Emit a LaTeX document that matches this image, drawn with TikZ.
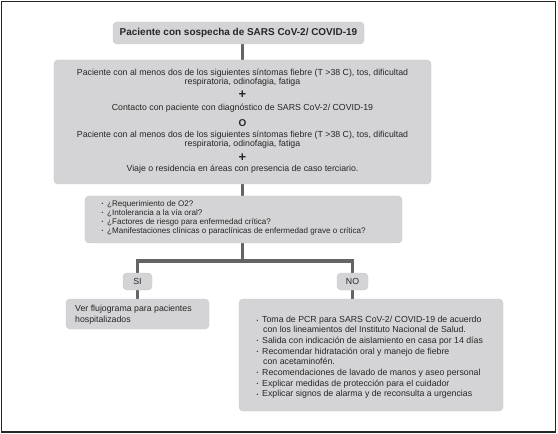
\documentclass[tikz,border=0pt]{standalone}
\usepackage{fontspec}
\setmainfont{Liberation Sans}
\usetikzlibrary{backgrounds}
\definecolor{boxfill}{RGB}{212,212,214}
\definecolor{boxedge}{RGB}{200,200,202}
\definecolor{linegray}{RGB}{100,100,100}
\definecolor{txtcol}{RGB}{38,38,38}
\newcommand\bl{\makebox[5.5bp][l]{\fontsize{5}{5}\selectfont\raisebox{0.7bp}{•}}}
\begin{document}
\begin{tikzpicture}[x=1bp,y=-1bp,
  boxnode/.style={fill=boxfill, draw=boxedge, line width=0.4bp, rounded corners=4bp, inner sep=0pt, text=txtcol},
  txt/.style={font=\fontsize{8.8}{9}\selectfont, text=txtcol, inner sep=0pt},
  txtq/.style={font=\fontsize{8.1}{9}\selectfont, text=txtcol, inner sep=0pt},
  txtb/.style={font=\fontsize{8.8}{10.2}\selectfont, text=txtcol, inner sep=0pt},
  sym/.style={font=\bfseries\fontsize{13}{13}\selectfont, text=txtcol, inner sep=0pt},
  symo/.style={font=\bfseries\fontsize{10}{10}\selectfont, text=txtcol, inner sep=0pt},
  conn/.style={draw=linegray, line width=3bp}]
\useasboundingbox (0,0) rectangle (558,434);
\draw[line width=1.2bp, black!85] (1.5,1.5) rectangle (555.5,432);

\node[boxnode, minimum width=251bp, minimum height=22bp, font=\bfseries\fontsize{10}{11}\selectfont] (title) at (238.5,33) {Paciente con sospecha de SARS CoV-2/ COVID-19};

\node[boxnode, minimum width=377bp, minimum height=124bp] (crit) at (242.5,122) {};
\node[txt, anchor=north, align=center] (c1) at (242.5,68.9) {Paciente con al menos dos de los siguientes síntomas fiebre (T >38 C), tos, dificultad\\respiratoria, odinofagia, fatiga};
\node[sym] (p1) at (242.5,95) {+};
\node[txt, anchor=north] (c2) at (242.5,103.9) {Contacto con paciente con diagnóstico de SARS CoV-2/ COVID-19};
\node[symo] (o) at (242.5,123.5) {O};
\node[txt, anchor=north, align=center] (c3) at (242.5,130.9) {Paciente con al menos dos de los siguientes síntomas fiebre (T >38 C), tos, dificultad\\respiratoria, odinofagia, fatiga};
\node[sym] (p2) at (242.5,158) {+};
\node[txt, anchor=north] (c4) at (242.5,164.9) {Viaje o residencia en áreas con presencia de caso terciario.};

\node[boxnode, minimum width=317bp, minimum height=47bp] (q) at (243.5,219.5) {};
\node[txtq, anchor=north west, align=left] (qt) at (101.5,200.2) {\bl ¿Requerimiento de O2?\\\bl ¿Intolerancia a la vía oral?\\\bl ¿Factores de riesgo para enfermedad crítica?\\\bl ¿Manifestaciones clínicas o paraclínicas de enfermedad grave o crítica?};

\node[boxnode, minimum width=29bp, minimum height=17bp, font=\fontsize{8.8}{9}\selectfont] (si) at (137.5,281.5) {SI};
\node[boxnode, minimum width=31bp, minimum height=17bp, font=\fontsize{8.8}{9}\selectfont] (no) at (352.5,281.5) {NO};

\node[boxnode, minimum width=143bp, minimum height=30bp] (ver) at (137.5,314) {};
\node[font=\fontsize{8.8}{10.7}\selectfont, text=txtcol, inner sep=0pt, anchor=north west, align=left] (vt) at (75,304.9) {Ver flujograma para pacientes\\hospitalizados};

\node[boxnode, minimum width=264bp, minimum height=112bp] (nobox) at (371,355) {};
\node[txtb, anchor=north west, align=left] (nt) at (256.5,316.2) {\bl Toma de PCR para SARS CoV-2/ COVID-19 de acuerdo\\\hspace*{6.5bp}con los lineamientos del Instituto Nacional de Salud.\\[0.6bp]\bl Salida con indicación de aislamiento en casa por 14 días\\[0.6bp]\bl Recomendar hidratación oral y manejo de fiebre\\\hspace*{6.5bp}con acetaminofén.\\[0.6bp]\bl Recomendaciones de lavado de manos y aseo personal\\[0.6bp]\bl Explicar medidas de protección para el cuidador\\[0.6bp]\bl Explicar signos de alarma y de reconsulta a urgencias};

\coordinate (j) at (242.5,261);
\begin{scope}[on background layer]
\draw[conn] (title.south -| crit.north) -- (crit.north);
\draw[conn] (crit.south) -- (crit.south |- q.north);
\draw[conn] (q.south -| j) -- (j);
\draw[conn] (si.north) |- (j) -| (no.north);
\draw[conn] (si.south) -- (ver.north);
\draw[conn] (no.south) -- (no.south |- nobox.north);
\end{scope}
\end{tikzpicture}
\end{document}
